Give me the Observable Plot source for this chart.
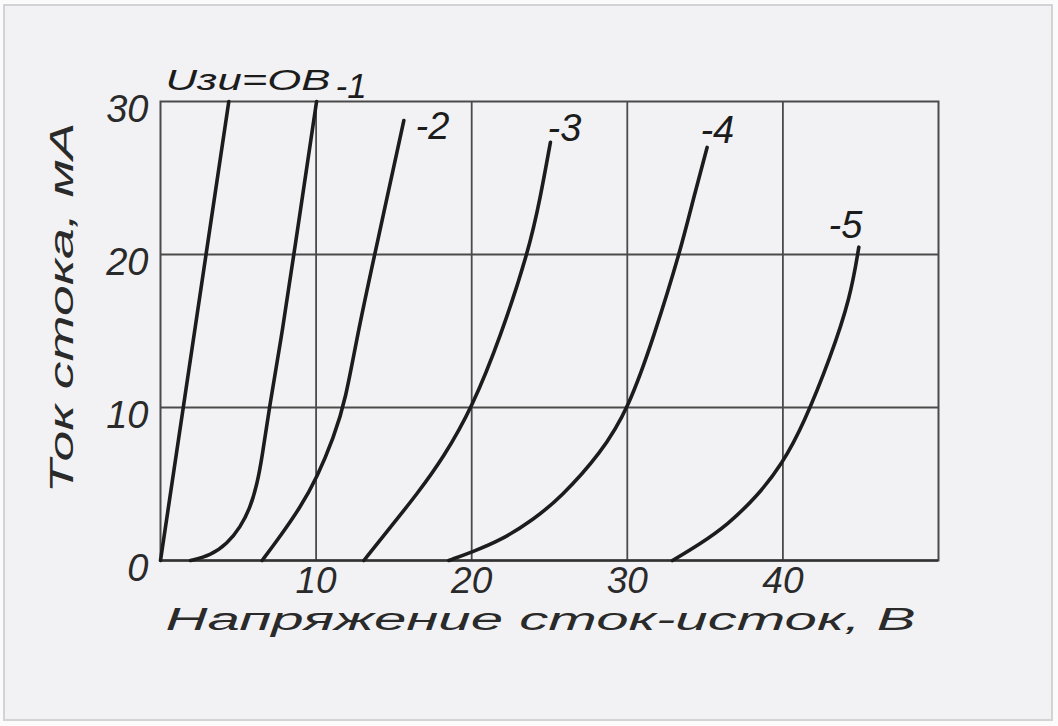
<!DOCTYPE html>
<html>
<head>
<meta charset="utf-8">
<script src="https://cdn.jsdelivr.net/npm/d3@7"></script>
<script src="https://cdn.jsdelivr.net/npm/@observablehq/plot@0.6"></script>
<style>
  html, body { margin: 0; padding: 0; background: #fbfbfc; }
  #wrap { position: relative; width: 1058px; height: 726px; overflow: hidden; }
  #panel { position: absolute; left: 3px; top: 4px; width: 1046px; height: 713px;
           border: 2px solid #d3d3d5; background: #f2f2f4; }
  #chart { position: absolute; left: 0; top: 0; }
</style>
</head>
<body>
<div id="wrap"><div id="panel"></div><div id="chart"></div></div>
<script>
// Drain-source voltage (V) / drain current (mA) readings for each gate voltage
const gateLabels = ["0", "-1", "-2", "-3", "-4", "-5"];
const curve0 = [[0, 0], [4.39, 30]];
const curve1 = [[1.93, 0], [3.21, 0.33], [4.28, 1.09], [5.14, 2.18], [5.78, 3.48], [6.21, 5.0], [6.53, 6.75], [6.96, 9.8], [7.84, 15], [8.57, 20], [10.03, 30]];
const curve2 = [[6.53, 0], [7.5, 1.31], [9.0, 3.48], [10.07, 5.44], [11.14, 8.06], [11.89, 10.46], [12.7, 15], [13.82, 20.26], [15.64, 28.76]];
const curve3 = [[13.07, 0], [14.78, 2.18], [16.5, 4.36], [18.2, 6.75], [20.03, 10.0], [21.85, 14.6], [23.67, 20.26], [24.42, 23.75], [25.06, 27.34]];
const curve4 = [[18.53, 0], [20.0, 0.55], [21.85, 1.3], [24.0, 2.7], [25.7, 4.1], [28.3, 7.0], [30.1, 10], [31.7, 14.6], [33.42, 20.26], [34.27, 23.75], [35.13, 27.0]];
const curve5 = [[32.9, 0], [34.7, 1.1], [36.4, 2.3], [38.35, 4.2], [39.95, 6.3], [41.34, 8.93], [43.06, 13.29], [44.34, 17.2], [44.88, 20.48]];
const curves = [curve0, curve1, curve2, curve3, curve4, curve5];

// Curve annotations (anchor in data units: left edge, baseline)
const labelTexts = ["Uзи=OВ", "-1", "-2", "-3", "-4", "-5"];
const labelX = [0.32, 11.25, 16.39, 24.87, 34.70, 42.93];
const labelY = [30.72, 30.2, 27.58, 27.45, 27.32, 21.11];

const xTicks = [10, 20, 30, 40];
const yTicks = [0, 10, 20, 30];
const xGrid = [10, 20, 30, 40];
const yGrid = [10, 20];
const xTitle = "Напряжение сток-исток, В";
const yTitle = "Ток стока, мА";

const lineData = curves.flatMap((c, i) => c.map(([v, a]) => ({gate: gateLabels[i], v, a})));
const labelData = labelTexts.map((t, i) => ({t, x: labelX[i], y: labelY[i]}));

const ink = "#1c1c1c";
const gridInk = "#4a4a4a";

const plot = Plot.plot({
  width: 1058,
  height: 726,
  marginLeft: 160,
  marginRight: 120,
  marginTop: 101,
  marginBottom: 166,
  style: {background: "transparent", fontFamily: "'Liberation Sans', Arial, sans-serif", fontStyle: "italic", color: "#2a2a2a"},
  x: {domain: [0, 50]},
  y: {domain: [0, 30]},
  marks: [
    Plot.ruleX(xGrid, {stroke: gridInk, strokeWidth: 1.8}),
    Plot.ruleY(yGrid, {stroke: gridInk, strokeWidth: 1.8}),
    Plot.frame({stroke: gridInk, strokeWidth: 2}),
    Plot.ruleY([0], {stroke: "#333", strokeWidth: 2.6}),
    Plot.axisX({ticks: xTicks, tickSize: 0, tickPadding: 6, fontSize: 37, label: null}),
    Plot.axisY({ticks: yTicks, tickSize: 0, tickPadding: 12, fontSize: 38, dy: 8, label: null}),
    Plot.line(lineData, {x: "v", y: "a", z: "gate", stroke: ink, strokeWidth: 3.6, curve: "basis"}),
    Plot.text(labelData.slice(0, 1), {x: "x", y: "y", text: "t", textAnchor: "start", lineAnchor: "bottom", fontSize: 30, fill: ink}),
    Plot.text(labelData.slice(1, 2), {x: "x", y: "y", text: "t", textAnchor: "start", lineAnchor: "bottom", fontSize: 35, fill: ink}),
    Plot.text(labelData.slice(2), {x: "x", y: "y", text: "t", textAnchor: "start", lineAnchor: "bottom", fontSize: 38, fill: ink}),
    Plot.text([xTitle], {frameAnchor: "bottom-left", dx: 5, dy: 69, text: d => d, textAnchor: "start", lineAnchor: "bottom", fontSize: 31, fill: "#2a2a2a"}),
    Plot.text([yTitle], {frameAnchor: "left", dx: -88, dy: -23, rotate: -90, text: d => d, textAnchor: "middle", lineAnchor: "bottom", fontSize: 34, fill: "#2a2a2a"})
  ]
});

// Stretch the wide lettering horizontally as in the original drawing
const stretch = {[xTitle]: 750, [yTitle]: 371, [labelTexts[0]]: 165};
plot.querySelectorAll("text").forEach(el => {
  const w = stretch[el.textContent];
  if (w) {
    el.setAttribute("textLength", w);
    el.setAttribute("lengthAdjust", "spacingAndGlyphs");
  }
});

document.getElementById("chart").appendChild(plot);
</script>
</body>
</html>
